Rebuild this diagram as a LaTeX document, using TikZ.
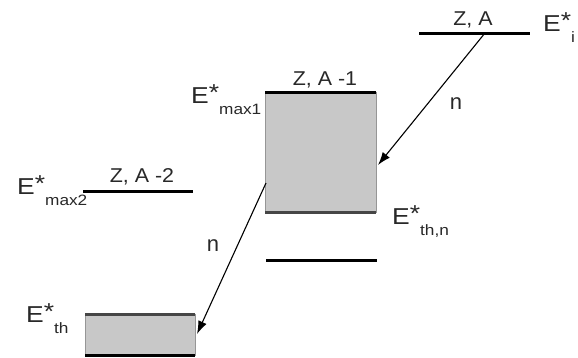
\documentclass[tikz,border=0pt]{standalone}
\usepackage{fontspec}
\setmainfont{Liberation Sans}[FakeStretch=1.15]
\newfontfamily\nfam{Liberation Sans}
\newfontfamily\zfam{Liberation Sans}[FakeStretch=1.07]
\usetikzlibrary{arrows.meta}
\definecolor{boxgray}{RGB}{200,200,200}
\definecolor{edgegray}{RGB}{150,150,150}
\definecolor{darkline}{RGB}{70,70,70}
\definecolor{textgray}{RGB}{40,40,40}
\newcommand\Elab[1]{{\fontsize{23}{23}\selectfont E\raisebox{3pt}{*}}\raisebox{-11pt}{\fontsize{15}{15}\selectfont #1}}
\tikzset{
  level/.style={line width=3pt},
  band/.style={fill=boxgray, draw=edgegray, line width=0.6pt},
  zlab/.style={anchor=base, inner sep=0pt, text=textgray, font=\zfam\fontsize{20}{20}\selectfont},
  elab/.style={anchor=base west, inner sep=0pt, text=textgray},
  nlab/.style={inner sep=0pt, text=textgray, font=\nfam\fontsize{22}{22}\selectfont},
  trans/.style={line width=1.1pt, -{Latex[length=13pt,width=9pt]}}
}
\begin{document}
\begin{tikzpicture}[x=1pt,y=-1pt]
\useasboundingbox (0,0) rectangle (578,357);
% bands
\draw[band] (265,92) rectangle (376,212);
\draw[band] (85,314) rectangle (195,355);
% levels
\draw[level] (419,33) -- (530,33);
\draw[level] (265,92) -- (376,92);
\draw[level, darkline] (265,212) -- (376,212);
\draw[level] (266,260) -- (377,260);
\draw[level] (83,191) -- (193,191);
\draw[level, darkline] (85,314) -- (195,314);
\draw[level] (85,355.5) -- (195,355.5);
% labels
\node[zlab] (zA) at (473,25) {Z, A};
\node[zlab] (zA1) at (325,85) {Z, A -1};
\node[zlab] (zA2) at (142,182) {Z, A -2};
\node[elab] (Ei) at (543,31) {\Elab{i}};
\node[elab] (Emax1) at (191,103) {\Elab{max1}};
\node[elab] (Emax2) at (17,194) {\Elab{max2}};
\node[elab] (Ethn) at (392,224) {\Elab{th,n}};
\node[elab] (Eth) at (26,322) {\Elab{th}};
\node[nlab] (n1) at (456,104) {n};
\node[nlab] (n2) at (213,246) {n};
% transitions
\coordinate (s1) at (485,33);
\coordinate (t1) at (378,165);
\coordinate (s2) at (266,183);
\coordinate (t2) at (197,334);
\draw[trans] (s1) -- (t1);
\draw[trans] (s2) -- (t2);
\end{tikzpicture}
\end{document}
